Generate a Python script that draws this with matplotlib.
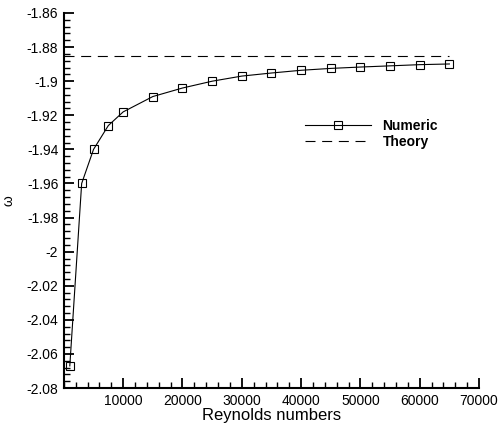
import numpy as np
import matplotlib.pyplot as plt
from matplotlib.ticker import MultipleLocator

plt.rcParams['font.family'] = ['Liberation Sans', 'DejaVu Sans']

re = [1000, 3000, 5000, 7500, 10000, 15000, 20000, 25000, 30000, 35000,
      40000, 45000, 50000, 55000, 60000, 65000]
omega = [-2.067, -1.960, -1.940, -1.926, -1.918, -1.909, -1.904, -1.900,
         -1.897, -1.8952, -1.8936, -1.8925, -1.8917, -1.8910, -1.8903, -1.8899]
re_theory = [0, 65000]
omega_theory = [-1.8855, -1.8855]

fig = plt.figure(figsize=(4.99, 4.26), dpi=100)
ax = fig.add_axes([0.128, 0.089, 0.832, 0.8805])

ax.plot(re, omega, color='k', lw=0.8, marker='s', markersize=6,
        markerfacecolor='none', markeredgewidth=0.8, label='Numeric')
ax.plot(re_theory, omega_theory, color='k', lw=0.8, dashes=(9, 6), label='Theory')

ax.set_xlim(0, 70000)
ax.set_ylim(-2.08, -1.86)
ax.xaxis.set_major_locator(MultipleLocator(10000))
ax.xaxis.set_minor_locator(MultipleLocator(2000))
ax.yaxis.set_major_locator(MultipleLocator(0.02))
ax.yaxis.set_minor_locator(MultipleLocator(0.004))
ax.set_xticks(np.arange(10000, 70001, 10000))
ax.set_xticklabels([str(v) for v in range(10000, 70001, 10000)])
yt = np.round(np.arange(-2.08, -1.859, 0.02), 2)
ax.set_yticks(yt)
ax.set_yticklabels(['%g' % v for v in yt])

for s in ['top', 'right']:
    ax.spines[s].set_visible(False)
for s in ['left', 'bottom']:
    ax.spines[s].set_linewidth(1.5)
ax.tick_params(which='major', direction='in', length=7, width=1.3, labelsize=10, pad=4)
ax.tick_params(which='minor', direction='in', length=4, width=1.0)

ax.set_xlabel('Reynolds numbers', fontsize=12, labelpad=0)
ax.set_ylabel('ω', fontsize=10, labelpad=8)

leg = ax.legend(loc='upper left', bbox_to_anchor=(0.55, 0.752), frameon=False,
                handlelength=4.8, prop={'weight': 'bold', 'size': 10},
                labelspacing=0.15, handletextpad=0.8)

fig.savefig('out.png', dpi=100)
